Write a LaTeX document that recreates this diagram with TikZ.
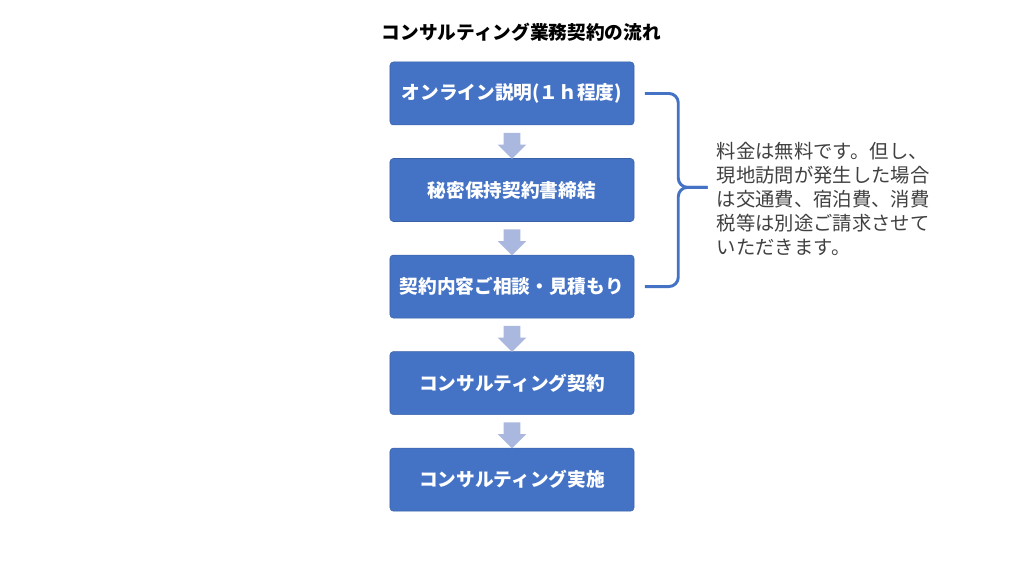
\documentclass[tikz,border=0pt]{standalone}
\usepackage{fontspec}
\setmainfont{Noto Sans CJK JP}
\usepackage{tikz}
\usetikzlibrary{arrows.meta,positioning,calc,shapes.arrows}
\definecolor{FlowBlue}{HTML}{4472C4}
\definecolor{FlowArrow}{HTML}{AAB7DF}
\definecolor{FlowInk}{HTML}{000000}
\definecolor{FlowNote}{HTML}{404040}

\begin{document}
\begin{tikzpicture}[
    node distance=24.75pt,
    stage/.style={fill=FlowBlue, draw=FlowBlue!85!black, line width=0.4pt, rounded corners=2.5pt,
      minimum width=183pt, minimum height=47.25pt, align=center, text=white,
      font=\fontsize{14}{17}\selectfont\bfseries},
    down/.style={single arrow, shape border rotate=270, fill=FlowArrow, draw=none,
      minimum height=19.5pt, single arrow head extend=4.5pt, inner sep=6pt},
    brace/.style={draw=FlowBlue, line width=2.2pt, rounded corners=7pt}
  ]
    \useasboundingbox (-384pt,70.1pt) rectangle (384pt,-361.9pt);

    \node[stage] (online) {オンライン説明(１ｈ程度)};
    \node[stage, below=of online] (nda) {秘密保持契約書締結};
    \node[stage, below=of nda] (consult) {契約内容ご相談・見積もり};
    \node[stage, below=of consult] (contract) {コンサルティング契約};
    \node[stage, below=of contract] (execute) {コンサルティング実施};

    \node[down] (a1) at ($(online.south)!0.5!(nda.north)$) {};
    \node[down] (a2) at ($(nda.south)!0.5!(consult.north)$) {};
    \node[down] (a3) at ($(consult.south)!0.5!(contract.north)$) {};
    \node[down] (a4) at ($(contract.south)!0.5!(execute.north)$) {};

    \node[font=\fontsize{14}{17}\selectfont\bfseries, text=FlowInk,
      above=12pt of online, xshift=7pt] (title) {コンサルティング業務契約の流れ};

    % brace over the free steps
    \coordinate (btop) at ($(online.east)+(8pt,0)$);
    \coordinate (bbot) at ($(consult.east)+(8pt,0)$);
    \coordinate (btip) at ($(nda.east)+(55pt,2pt)$);
    \coordinate (bmid) at ($(btip)+(-22pt,0)$);
    \draw[brace] (btop) -| (bmid) -- (btip);
    \draw[brace] (btip) -- (bmid) |- (bbot);

    \node[anchor=west, align=left, text=FlowNote, font=\fontsize{14.5}{18}\selectfont]
      (note) at ($(btip)+(3.5pt,-9pt)$)
      {料金は無料です。但し、\\現地訪問が発生した場合\\は交通費、宿泊費、消費\\税等は別途ご請求させて\\いただきます。};
  \end{tikzpicture}
\end{document}
